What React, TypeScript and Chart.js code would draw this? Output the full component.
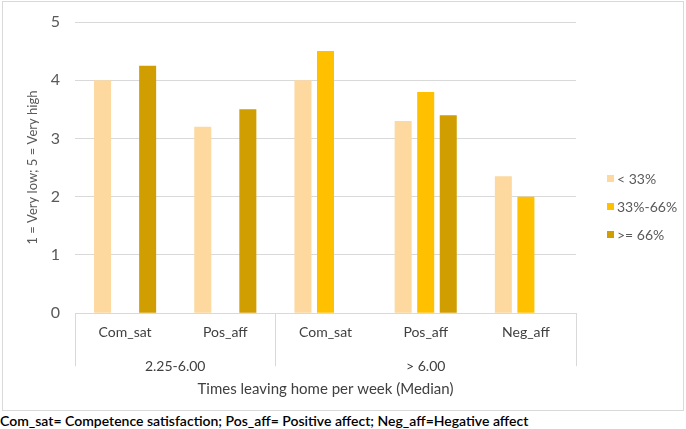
import React, { useEffect, useRef } from "react";
import { Chart, registerables } from "chart.js";

Chart.register(...registerables);

const categories = ["Com_sat", "Pos_aff", "Com_sat", "Pos_aff", "Neg_aff"];
const groupLabels = ["2.25-6.00", "> 6.00"];
const groupSpans = [2, 3];
const seriesNames = ["< 33%", "33%-66%", ">= 66%"];
const lowValues = [4.0, 3.2, 4.0, 3.3, 2.35];
const midValues = [null, null, 4.5, 3.8, 2.0];
const highValues = [4.25, 3.5, null, 3.4, null];
const yTicks = [0, 1, 2, 3, 4, 5];
const seriesColors = ["#FDD9A0", "#FFC000", "#D09E00"];

const FONT = "Lato, 'Open Sans', sans-serif";

const groupPlugin = {
  id: "groupPlugin",
  afterDraw(chart: any) {
    const { ctx, scales, chartArea } = chart;
    const x = scales.x;
    const n = categories.length;
    const step = (chartArea.right - chartArea.left) / n;
    const top = chartArea.bottom;
    const bottom = chartArea.bottom + 53;
    ctx.save();
    ctx.strokeStyle = "#D9D9D9";
    ctx.lineWidth = 1;
    let idx = 0;
    const bounds: number[] = [0];
    groupSpans.forEach((s) => {
      idx += s;
      bounds.push(idx);
    });
    bounds.forEach((b) => {
      const px = Math.round(x.getPixelForValue(b) - step / 2) + 0.5;
      ctx.beginPath();
      ctx.moveTo(px, top);
      ctx.lineTo(px, bottom);
      ctx.stroke();
    });
    ctx.fillStyle = "#404040";
    ctx.font = `14px ${FONT}`;
    ctx.textAlign = "center";
    ctx.textBaseline = "middle";
    groupLabels.forEach((g, i) => {
      const a = x.getPixelForValue(bounds[i]) - step / 2;
      const b = x.getPixelForValue(bounds[i + 1]) - step / 2;
      ctx.fillText(g, (a + b) / 2, chartArea.bottom + 53);
    });

    // legend (right side, vertical)
    const lx = chartArea.right + 31;
    const midY = chart.height / 2;
    const gap = 28;
    const ds = chart.data.datasets;
    ctx.font = `14px ${FONT}`;
    ctx.textAlign = "left";
    ds.forEach((d: any, i: number) => {
      const cy = midY + (i - (ds.length - 1) / 2) * gap;
      ctx.fillStyle = d.backgroundColor;
      ctx.fillRect(lx, Math.round(cy - 3.5), 7, 7);
      ctx.fillStyle = "#595959";
      ctx.fillText(d.label, lx + 10, cy + 1);
    });
    ctx.restore();
  },
};

export default function App() {
  const ref = useRef<HTMLCanvasElement | null>(null);
  useEffect(() => {
    if (!ref.current) return;
    const chart = new Chart(ref.current, {
      type: "bar",
      data: {
        labels: categories,
        datasets: [
          { label: seriesNames[0], data: lowValues, backgroundColor: seriesColors[0] },
          { label: seriesNames[1], data: midValues as any, backgroundColor: seriesColors[1] },
          { label: seriesNames[2], data: highValues as any, backgroundColor: seriesColors[2] },
        ],
      },
      options: {
        animation: false,
        responsive: false,
        maintainAspectRatio: false,
        layout: { padding: { left: 22, right: 107, top: 20, bottom: 7 } },
        datasets: { bar: { categoryPercentage: 0.675, barPercentage: 0.755 } },
        plugins: {
          legend: { display: false },
          tooltip: { enabled: false },
        },
        scales: {
          x: {
            grid: { display: false, drawTicks: false },
            border: { display: true, color: "#D9D9D9" },
            ticks: { color: "#404040", font: { family: FONT, size: 14 }, padding: 11 },
            title: {
              display: true,
              text: "Times leaving home per week (Median)",
              color: "#404040",
              font: { family: FONT, size: 15 },
              padding: { top: 28, bottom: 5 },
            },
          },
          y: {
            min: 0,
            max: 5,
            afterBuildTicks: (axis: any) => {
              axis.ticks = yTicks.map((v) => ({ value: v }));
            },
            afterFit: (axis: any) => {
              axis.width = 50;
              axis.paddingTop = 0;
            },
            grid: { color: "#D9D9D9", drawTicks: false },
            border: { display: false },
            ticks: { color: "#595959", font: { family: FONT, size: 16 }, padding: 15 },
            title: {
              display: true,
              text: "1 = Very low; 5 = Very high",
              color: "#595959",
              font: { family: FONT, size: 13 },
              padding: { top: 0, bottom: 0 },
            },
          },
        },
      },
      plugins: [groupPlugin],
    });
    return () => chart.destroy();
  }, []);

  return (
    <div style={{ position: "absolute", left: 0, top: 0, width: 686, height: 429, background: "#fff" }}>
      <div
        style={{
          position: "absolute",
          left: 2,
          top: 1,
          width: 680,
          height: 408,
          border: "1px solid #D9D9D9",
        }}
      >
        <canvas ref={ref} width={680} height={408} style={{ display: "block" }} />
      </div>
      <div
        style={{
          position: "absolute",
          left: 0,
          top: 412,
          fontFamily: FONT,
          fontSize: 14,
          fontWeight: 600,
          color: "#000",
          whiteSpace: "nowrap",
          lineHeight: "17px",
        }}
      >
        Com_sat= Competence satisfaction; Pos_aff= Positive affect; Neg_aff=Hegative affect
      </div>
    </div>
  );
}
